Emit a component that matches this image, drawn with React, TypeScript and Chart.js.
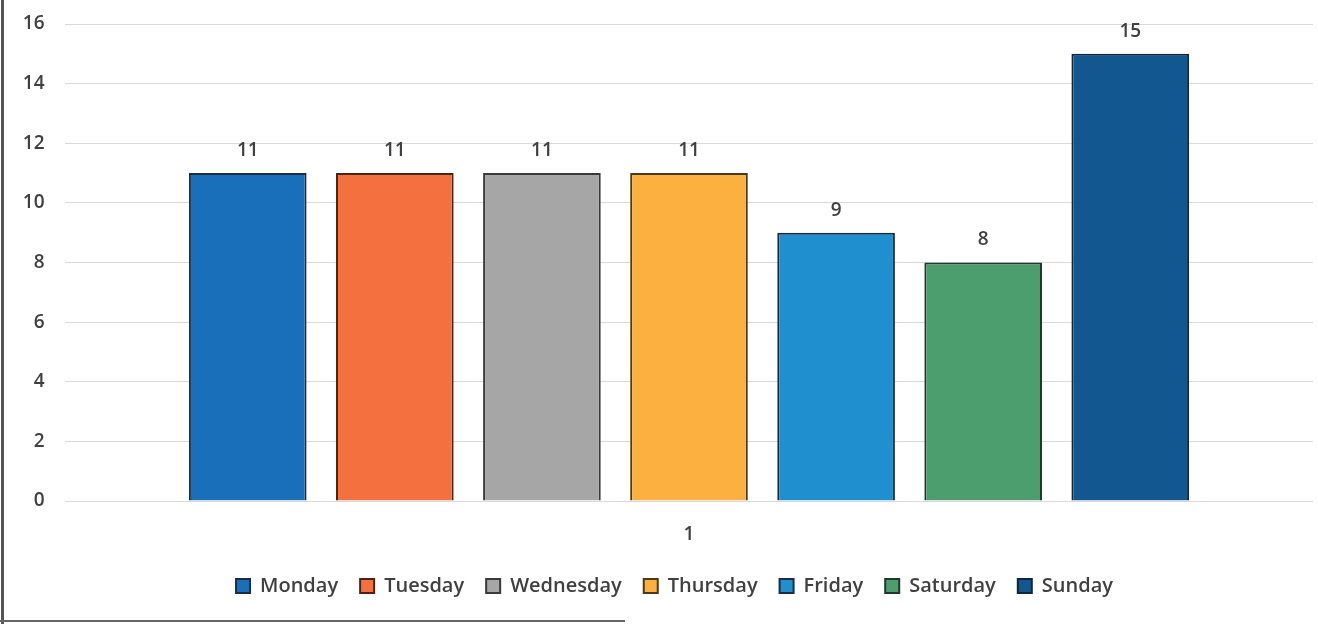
import React, { useEffect, useRef } from "react";
import { Chart, registerables } from "chart.js";

Chart.register(...registerables);

const categories = ["1"];
const seriesNames = ["Monday", "Tuesday", "Wednesday", "Thursday", "Friday", "Saturday", "Sunday"];
const seriesValues = [11, 11, 11, 11, 9, 8, 15];
const seriesColors = ["#1a6fba", "#f5703f", "#a6a6a6", "#fbb040", "#1f8fd0", "#4c9e6e", "#12578f"];
const seriesBorders = ["#1b2d45", "#4a2418", "#3a3a3a", "#4a3a1a", "#1b2d45", "#1e3a2a", "#10263c"];
const yTicks = [0, 2, 4, 6, 8, 10, 12, 14, 16];

const FONT = "'Open Sans', sans-serif";
const TEXT = "#404040";

const valueLabels = {
  id: "valueLabels",
  afterDatasetsDraw(chart: any) {
    const ctx = chart.ctx;
    ctx.save();
    ctx.font = `600 19px ${FONT}`;
    ctx.fillStyle = TEXT;
    ctx.textAlign = "center";
    ctx.textBaseline = "bottom";
    chart.data.datasets.forEach((ds: any, i: number) => {
      const meta = chart.getDatasetMeta(i);
      meta.data.forEach((el: any, j: number) => {
        ctx.fillText(String(ds.data[j]), el.x, el.y - 13);
      });
    });
    ctx.restore();
  },
};

const legendShift = {
  id: "legendShift",
  afterLayout(chart: any) {
    if (chart.legend) chart.legend.left = 36;
  },
};

export default function App() {
  const ref = useRef<HTMLCanvasElement | null>(null);
  useEffect(() => {
    document.body.style.margin = "0";
    const chart = new Chart(ref.current as HTMLCanvasElement, {
      type: "bar",
      data: {
        labels: categories,
        datasets: seriesNames.map((name, i) => ({
          label: name,
          data: [seriesValues[i]],
          backgroundColor: seriesColors[i],
          borderColor: seriesBorders[i],
          borderWidth: 2,
          categoryPercentage: 0.825,
          barPercentage: 0.8,
        })),
      },
      options: {
        animation: false,
        responsive: false,
        maintainAspectRatio: false,
        layout: { padding: { top: 24, right: 5, left: 0, bottom: 18 } },
        plugins: {
          legend: {
            position: "bottom",
            labels: {
              boxWidth: 14,
              boxHeight: 14,
              padding: 22,
              color: TEXT,
              font: { family: FONT, size: 20, weight: "600" },
            },
          },
          tooltip: { enabled: false },
        },
        scales: {
          x: {
            grid: { display: false, drawTicks: false },
            border: { display: false },
            ticks: { color: TEXT, padding: 22, font: { family: FONT, size: 19, weight: "600" } },
            afterFit: (s: any) => {
              s.height = 53;
            },
          },
          y: {
            min: 0,
            max: 16,
            afterBuildTicks: (s: any) => {
              s.ticks = yTicks.map((v) => ({ value: v }));
            },
            grid: { color: "#d9d9d9", lineWidth: 1, drawTicks: false },
            border: { display: false },
            ticks: {
              color: TEXT,
              padding: 11,
              font: { family: FONT, size: 19, weight: "600" },
              callback: (v: any) => String(v) + "\u2002",
            },
            afterFit: (s: any) => {
              s.width = 65;
            },
          },
        },
      },
      plugins: [valueLabels, legendShift],
    });
    return () => chart.destroy();
  }, []);
  return (
    <div style={{ position: "relative", width: 1318, height: 624, background: "#fff" }}>
      <canvas ref={ref} width={1318} height={624} style={{ display: "block" }} />
      <div style={{ position: "absolute", left: 1, top: 0, width: 3, height: 624, background: "#555" }} />
      <div style={{ position: "absolute", left: 0, top: 620, width: 625, height: 2, background: "#666" }} />
    </div>
  );
}
